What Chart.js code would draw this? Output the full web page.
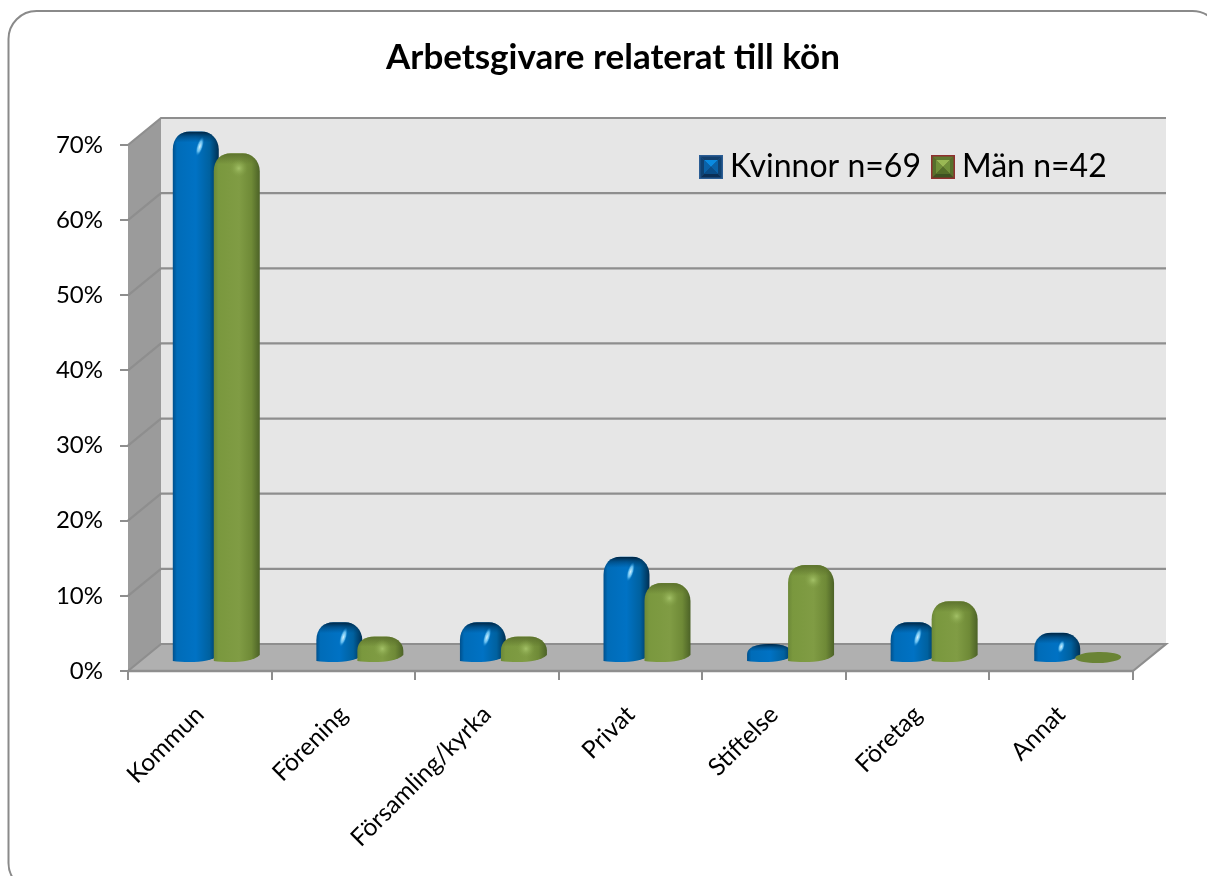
<!DOCTYPE html>
<html><head><meta charset="utf-8">
<style>html,body{margin:0;padding:0;background:#fff;overflow:hidden}#wrap{width:1207px;height:876px;position:relative}</style>
<script src="https://cdn.jsdelivr.net/npm/chart.js@4"></script>
</head><body><div id="wrap"><canvas id="c" width="1207" height="876"></canvas></div>
<script>
const titleText = 'Arbetsgivare relaterat till kön';
const categories = ['Kommun','Förening','Församling/kyrka','Privat','Stiftelse','Företag','Annat'];
const kvinnor = [69.6,4.3,4.3,13.0,1.4,4.3,2.9];
const man = [66.7,2.4,2.4,9.5,11.9,7.1,0];
const seriesNames = ['Kvinnor n=69','Män n=42'];
const FONT = 'Lato, Carlito, sans-serif';
const DEPTH_X = 33, DEPTH_Y = 27;

function icon(border, o, i){
  const c = document.createElement('canvas'); c.width = 24; c.height = 24;
  const g = c.getContext('2d');
  g.fillStyle = border; g.fillRect(0,0,24,24);
  const tri = (col, pts) => { g.fillStyle = col; g.beginPath(); pts.forEach((p,k)=> k?g.lineTo(p[0],p[1]):g.moveTo(p[0],p[1])); g.closePath(); g.fill(); };
  const four = (a,b,m,cols) => {
    tri(cols[0],[[a,a],[b,a],[m,m]]);
    tri(cols[1],[[a,a],[a,b],[m,m]]);
    tri(cols[1],[[b,a],[b,b],[m,m]]);
    tri(cols[2],[[a,b],[b,b],[m,m]]);
  };
  four(1.5,22.5,12,o);
  four(5,19,12,i);
  return c;
}
const iconBlue = icon('#2b5d94',['#123f6c','#0f4272','#0b2f55'],['#0a8ae0','#0a62a8','#0a4d88']);
const iconGreen = icon('#8f2f2f',['#5f7a30','#56702c','#3d5222'],['#9ab854','#71903a','#546e2a']);

function barPath(g,xl,xr,yt,yb,flat){
  const w = xr-xl;
  g.beginPath();
  if(flat){ g.ellipse((xl+xr)/2,(yt+yb)/2,w/2,(yb-yt)/2,-0.02,0,Math.PI*2); return; }
  const h = yb-yt, rx = h<22 ? w*0.46 : w*0.37, ry = Math.min(18,h*0.55);
  g.moveTo(xl,yb-1);
  g.lineTo(xl,yt+ry);
  g.bezierCurveTo(xl,yt+ry*.35,xl+rx*.45,yt,xl+rx,yt);
  g.lineTo(xr-rx,yt);
  g.bezierCurveTo(xr-rx*.5,yt,xr,yt+ry*.4,xr,yt+ry);
  g.lineTo(xr,yb-7);
  g.bezierCurveTo(xr-w*.15,yb+1,xl+w*.3,yb+1,xl,yb-1);
  g.closePath();
}

function drawBar(g,el,isBlue,value){
  const dx = 16.5, dy = -16.5;
  const x = el.x+dx, w = el.width, xl = x-w/2, xr = x+w/2;
  const yb = el.base+dy+8.5;
  let yt = el.y+dy;
  const flat = value===0;
  if(flat) yt = yb-11;
  g.save();
  barPath(g,xl,xr,yt,yb,flat);
  if(flat){ g.fillStyle='#6a8435'; g.fill(); g.restore(); return; }
  const hg = g.createLinearGradient(xl,0,xr,0);
  if(isBlue){
    hg.addColorStop(0,'#00508c');hg.addColorStop(.09,'#006cb8');hg.addColorStop(.5,'#0072c4');
    hg.addColorStop(.8,'#00619f');hg.addColorStop(1,'#002f52');
  } else {
    hg.addColorStop(0,'#6c8838');hg.addColorStop(.1,'#7a983e');hg.addColorStop(.55,'#809c44');
    hg.addColorStop(.82,'#6f8a37');hg.addColorStop(1,'#4c6227');
  }
  g.fillStyle=hg; g.fill();
  g.clip();
  const h = yb-yt;
  const capH = Math.min(11,h*.4);
  const cap = g.createLinearGradient(0,yt,0,yt+capH);
  if(isBlue){ cap.addColorStop(0,'rgba(0,30,55,.95)');cap.addColorStop(.45,'rgba(0,45,80,.45)');cap.addColorStop(1,'rgba(0,60,110,0)'); }
  else { cap.addColorStop(0,'rgba(85,105,40,.8)');cap.addColorStop(1,'rgba(85,105,40,0)'); }
  g.fillStyle=cap; g.fillRect(xl,yt,w,capH);
  if(h>=20){
    const sy = yt+Math.min(15,h*.48);
    if(isBlue){
      const sx = x+4;
      g.translate(sx,sy); g.rotate(.3);
      g.scale(1,h>32?3:2);
      const s = g.createRadialGradient(0,0,0,0,0,3.4);
      s.addColorStop(0,'rgba(215,245,255,1)');s.addColorStop(.55,'rgba(120,205,250,.8)');s.addColorStop(1,'rgba(0,120,200,0)');
      g.fillStyle=s; g.beginPath(); g.arc(0,0,3.4,0,Math.PI*2); g.fill();
    } else {
      const sx = x+2;
      const s = g.createRadialGradient(sx,sy,0,sx,sy,9);
      s.addColorStop(0,'rgba(165,195,105,.95)');s.addColorStop(1,'rgba(130,160,70,0)');
      g.fillStyle=s; g.beginPath(); g.arc(sx,sy,9,0,Math.PI*2); g.fill();
    }
  }
  g.restore();
}

const scene = {
  id:'scene',
  beforeDraw(chart){
    const g = chart.ctx, {x,y} = chart.scales;
    g.save();
    g.fillStyle='#fff'; g.fillRect(0,0,chart.width,chart.height);
    g.strokeStyle='#8a8a8a'; g.lineWidth=2;
    g.beginPath(); g.roundRect(8.5,11,1212,880,28); g.stroke();
    const L = x.left, R = x.right, B = y.getPixelForValue(0), T = y.getPixelForValue(70);
    const poly=(c,p)=>{g.fillStyle=c;g.beginPath();p.forEach((q,i)=>i?g.lineTo(q[0],q[1]):g.moveTo(q[0],q[1]));g.closePath();g.fill();};
    poly('#e6e6e6',[[L+DEPTH_X,T-DEPTH_Y],[R+DEPTH_X,T-DEPTH_Y],[R+DEPTH_X,B-DEPTH_Y],[L+DEPTH_X,B-DEPTH_Y]]);
    poly('#9b9b9b',[[L,T],[L+DEPTH_X,T-DEPTH_Y],[L+DEPTH_X,B-DEPTH_Y],[L,B]]);
    poly('#b0b0b0',[[L,B],[R,B],[R+DEPTH_X,B-DEPTH_Y],[L+DEPTH_X,B-DEPTH_Y]]);
    g.lineWidth=2.2; g.strokeStyle='#8e8e8e';
    y.ticks.forEach(t=>{
      const py=y.getPixelForValue(t.value);
      g.beginPath();g.moveTo(L,py);g.lineTo(L+DEPTH_X,py-DEPTH_Y);g.lineTo(R+DEPTH_X,py-DEPTH_Y);
      if(t.value===0) g.lineTo(R,py);
      g.stroke();
    });
    g.lineWidth=2.6;g.beginPath();g.moveTo(L,B);g.lineTo(R,B);g.stroke();
    g.restore();
  },
  beforeDatasetsDraw(chart){
    const g = chart.ctx;
    [0,1].forEach(i=>{
      const meta = chart.getDatasetMeta(i);
      meta.data.forEach((el,j)=>drawBar(g,el,i===0,chart.data.datasets[i].data[j]));
    });
    return false;
  },
  afterLayout(chart){
    const lg = chart.legend;
    const w = lg.right-lg.left;
    lg.left = 689; lg.right = 689+w; lg.top = 132; lg.bottom = lg.top+lg.height;
    const t = chart.titleBlock;
    t.left = 93; t.right = 1133;
  }
};

new Chart(document.getElementById('c'),{
  type:'bar',
  data:{labels:categories,datasets:[
    {label:seriesNames[0],data:kvinnor,backgroundColor:'#0070c0',pointStyle:iconBlue,categoryPercentage:.571,barPercentage:1.122},
    {label:seriesNames[1],data:man,backgroundColor:'#7f9c44',pointStyle:iconGreen,categoryPercentage:.571,barPercentage:1.122}
  ]},
  plugins:[scene],
  options:{
    responsive:false,animation:false,devicePixelRatio:1,
    layout:{padding:{left:10,right:74,top:37,bottom:0}},
    plugins:{
      title:{display:true,text:titleText,color:'#000',align:'center',font:{family:FONT,size:35,weight:'bold'},padding:{top:0,bottom:5}},
      legend:{display:true,position:'top',align:'start',
        labels:{usePointStyle:true,pointStyleWidth:6,color:'#000',font:{family:FONT,size:32},padding:19,boxHeight:24}},
      tooltip:{enabled:false}
    },
    scales:{
      x:{type:'category',offset:true,
        grid:{display:true,offset:true,drawOnChartArea:false,drawTicks:true,tickLength:9,color:'#8e8e8e',lineWidth:2},
        border:{display:false},
        ticks:{color:'#000',font:{family:FONT,size:24.5},minRotation:45,maxRotation:45,padding:20,autoSkip:false},
        afterFit(s){s.height=205;}},
      y:{min:0,max:70,
        grid:{display:true,drawOnChartArea:false,drawTicks:true,tickLength:8,color:'#8e8e8e',lineWidth:2},
        border:{display:false},
        ticks:{stepSize:10,color:'#000',font:{family:FONT,size:24},padding:17,callback:v=>v+'%'},
        afterFit(s){s.width=118;}}
    }
  }
});
</script></body></html>
